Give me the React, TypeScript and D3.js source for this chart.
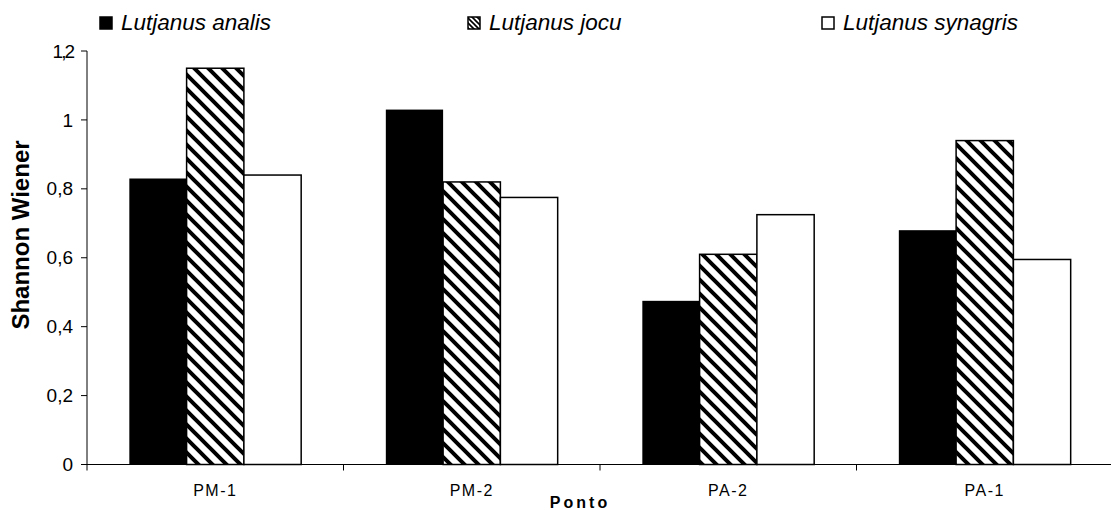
import React from "react";
import * as d3 from "d3";

const categories = ["PM-1", "PM-2", "PA-2", "PA-1"];
const seriesNames = ["Lutjanus analis", "Lutjanus jocu", "Lutjanus synagris"];
const analis = [0.83, 1.03, 0.475, 0.68];
const jocu = [1.15, 0.82, 0.61, 0.94];
const synagris = [0.84, 0.775, 0.725, 0.595];
const yTicks = [0, 0.2, 0.4, 0.6, 0.8, 1, 1.2];
const yTickLabels = ["0", "0,2", "0,4", "0,6", "0,8", "1", "1,2"];

const W = 1111;
const H = 510;
const left = 87;
const right = 1113;
const top = 51;
const bottom = 464.5;

export default function App() {
  const series = [analis, jocu, synagris];
  const x0 = d3.scaleBand<string>().domain(categories).range([left, right]).paddingInner(0.33).paddingOuter(0.165);
  const x1 = d3.scaleBand<number>().domain([0, 1, 2]).range([0, x0.bandwidth()]);
  const y = d3.scaleLinear().domain([0, 1.2]).range([bottom, top]);
  const fills = ["#000", "url(#hatch)", "#fff"];
  const bandEdges = d3.range(categories.length + 1).map((i) => left + i * x0.step());
  const legendX = [100, 468, 822];
  const font = "Arial, 'Liberation Sans', Helvetica, sans-serif";

  return (
    <svg width={W} height={H} style={{ position: "absolute", left: 0, top: 0, background: "#fff" }} fontFamily={font}>
      <defs>
        <pattern id="hatch" patternUnits="userSpaceOnUse" width={14} height={14}>
          <rect width={14} height={14} fill="#fff" />
          <path d="M0,0 L14,14 M-3,11 L3,17 M11,-3 L17,3" stroke="#000" strokeWidth={4} />
        </pattern>
        <pattern id="hatchSmall" patternUnits="userSpaceOnUse" width={5} height={5}>
          <rect width={5} height={5} fill="#fff" />
          <path d="M0,0 L5,5 M-1,4 L1,6 M4,-1 L6,1" stroke="#000" strokeWidth={1.6} />
        </pattern>
      </defs>
      <rect width={W} height={H} fill="#fff" />
      {/* bars */}
      {categories.map((c, ci) =>
        series.map((s, si) => (
          <rect
            key={c + si}
            x={(x0(c) as number) + (x1(si) as number)}
            y={y(s[ci])}
            width={x1.bandwidth()}
            height={bottom - y(s[ci])}
            fill={fills[si]}
            stroke="#000"
            strokeWidth={si === 0 ? 0 : 1.5}
          />
        ))
      )}
      {/* y axis */}
      <line x1={left} x2={left} y1={top} y2={bottom} stroke="#000" strokeWidth={1} />
      {yTicks.map((t, i) => (
        <g key={t}>
          <line x1={left - 6} x2={left} y1={y(t)} y2={y(t)} stroke="#000" strokeWidth={1} />
          <text x={left - 14} y={y(t)} dy="0.35em" textAnchor="end" fontSize={19} letterSpacing={i === 6 ? -2 : 0}>
            {yTickLabels[i]}
          </text>
        </g>
      ))}
      {/* x axis */}
      <line x1={left} x2={right} y1={bottom} y2={bottom} stroke="#000" strokeWidth={1} />
      {bandEdges.map((e, i) => (
        <line key={i} x1={e} x2={e} y1={bottom} y2={bottom + 6} stroke="#000" strokeWidth={1} />
      ))}
      {categories.map((c) => (
        <text key={c} x={(x0(c) as number) + x0.bandwidth() / 2} y={496} textAnchor="middle" fontSize={16} letterSpacing={1.5}>
          {c}
        </text>
      ))}
      <text x={580} y={508} textAnchor="middle" fontSize={16} fontWeight="bold" letterSpacing={3}>
        Ponto
      </text>
      <text transform="translate(29,235) rotate(-90)" textAnchor="middle" fontSize={24} fontWeight="bold">
        Shannon Wiener
      </text>
      {/* legend */}
      {seriesNames.map((n, i) => (
        <g key={n}>
          <rect x={legendX[i]} y={17} width={12} height={12} fill={i === 1 ? "url(#hatchSmall)" : fills[i]} stroke="#000" strokeWidth={1.5} />
          <text x={legendX[i] + 21} y={29.5} fontSize={22.5} fontStyle="italic">
            {n}
          </text>
        </g>
      ))}
    </svg>
  );
}
